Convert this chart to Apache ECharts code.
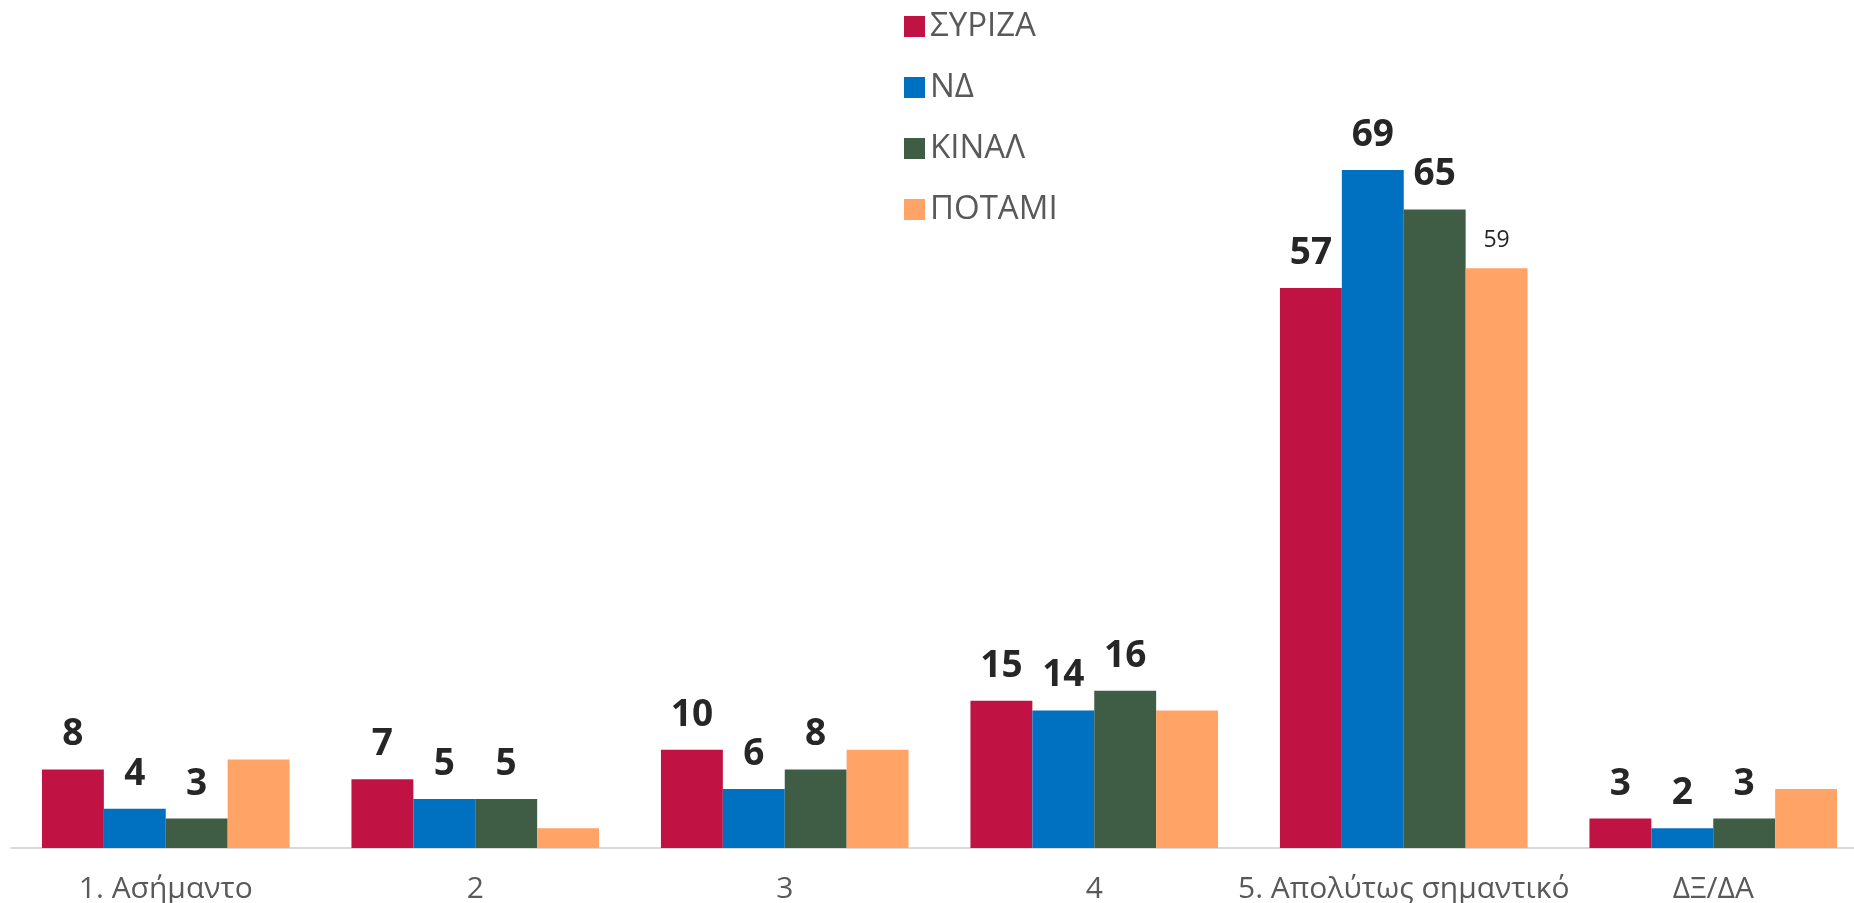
<!DOCTYPE html>
<html lang="el">
<head>
    <meta charset="UTF-8">
    <title>bar-chart</title>
    <script src="https://cdn.jsdelivr.net/npm/echarts@6/dist/echarts.min.js"></script>
    <style>
        html, body {
            margin: 0;
            padding: 0;
            background: #fff;
        }
        #main {
            width: 1854px;
            height: 903px;
        }
    </style>
</head>
<body>
<div id="main"></div>
<script>
    // categories and series values
    let categories = ['1. Ασήμαντο', '2', '3', '4', '5. Απολύτως σημαντικό', 'ΔΞ/ΔΑ'];
    let syriza = [8, 7, 10, 15, 57, 3];
    let nd = [4, 5, 6, 14, 69, 2];
    let kinal = [3, 5, 8, 16, 65, 3];
    let potami = [9, 2, 10, 14, 59, 6];
    // only one ΠΟΤΑΜΙ value carries a label in the original
    let potamiLabelled = [4];

    let boldLabel = {
        show: true,
        position: 'top',
        distance: 16,
        color: '#262626',
        fontFamily: 'Open Sans',
        fontWeight: 'bold',
        fontSize: 37
    };

    function makeBar(name, data, color, label) {
        return {
            name: name,
            type: 'bar',
            data: data,
            barGap: '0%',
            barCategoryGap: '20%',
            itemStyle: {color: color},
            label: label
        };
    }

    let potamiData = potami.map((v, i) => {
        if (potamiLabelled.indexOf(i) >= 0) {
            return {
                value: v,
                label: {
                    show: true,
                    position: 'top',
                    distance: 16,
                    color: '#262626',
                    fontFamily: 'Open Sans',
                    fontSize: 23
                }
            };
        }
        return v;
    });

    let option = {
        animation: false,
        backgroundColor: '#fff',
        legend: {
            orient: 'vertical',
            left: 904,
            top: 10,
            padding: 0,
            itemWidth: 21,
            itemHeight: 21,
            itemGap: 28,
            itemStyle: {borderWidth: 0},
            icon: 'rect',
            textStyle: {
                color: '#595959',
                fontFamily: 'Open Sans',
                fontSize: 33,
                lineHeight: 30
            },
            data: ['ΣΥΡΙΖΑ', 'ΝΔ', 'ΚΙΝΑΛ', 'ΠΟΤΑΜΙ']
        },
        grid: {
            left: 11,
            width: 1857,
            top: 62,
            bottom: 55,
            outerBoundsMode: 'none'
        },
        xAxis: {
            type: 'category',
            data: categories,
            axisLine: {lineStyle: {color: '#d9d9d9', width: 2}},
            axisTick: {show: false},
            axisLabel: {
                color: '#595959',
                fontFamily: 'Open Sans',
                fontSize: 30,
                margin: 26,
                interval: 0
            }
        },
        yAxis: {
            type: 'value',
            min: 0,
            max: 80,
            show: false
        },
        series: [
            makeBar('ΣΥΡΙΖΑ', syriza, '#c01343', boldLabel),
            makeBar('ΝΔ', nd, '#0070c0', boldLabel),
            makeBar('ΚΙΝΑΛ', kinal, '#3f5c44', boldLabel),
            makeBar('ΠΟΤΑΜΙ', potamiData, '#ffa366', {show: false})
        ]
    };

    let myChart = echarts.init(document.getElementById('main'), null, {renderer: 'canvas'});
    myChart.setOption(option);
</script>
</body>
</html>
